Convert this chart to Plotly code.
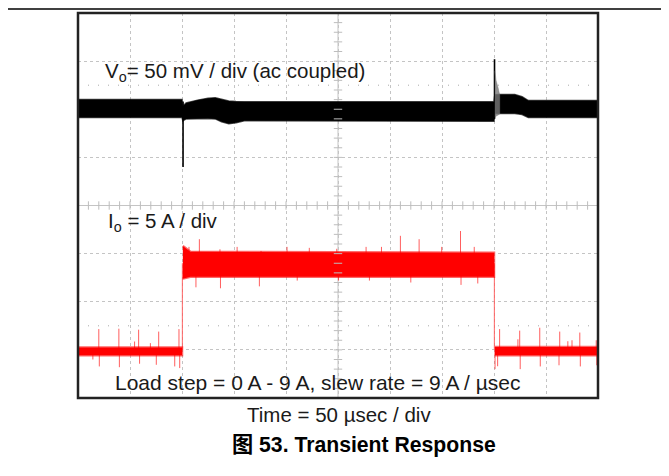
import plotly.graph_objects as go

# ---------------------------------------------------------------- Datos leídos del osciloscopio
# tiempo en µsec (50 µsec / div, 10 div)
# Vo en mV, ac coupled, 50 mV / div, referencia en +2 div
VO_REF, VO_SCALE = 2, 50
vo_t = [0, 100, 100.8, 104, 115, 125, 132, 138, 145, 152, 160, 400, 400.8, 405, 420, 427, 433, 500]
vo_hi = [10, 10, 3, 6.6, 9.5, 11.5, 12, 10.5, 8.5, 8, 7.7, 7.7, 15, 15.4, 15.4, 13, 9, 9]
vo_lo = [-8.5, -8.5, -12, -10, -9.5, -9.5, -10, -13, -15, -14, -12, -12.5, -4.5, -4.3, -4.3, -5.5, -8.5, -8.5]

# picos del transitorio de Vo
vo_spike_t = [101, 400.5]
vo_spike_top = [8, 52]
vo_spike_bot = [-60, -10]

# oscilación gris después del segundo escalón
ring_t = [400.8, 402, 404, 405.5]
ring_hi = [40, 30, 22, 15]
ring_lo = [-8, -7, -6, -5]

# Io en A, 5 A / div, referencia (0 A) en -3 div
IO_REF, IO_SCALE = -3, 5
io_t = [0, 100, None, 100.8, 108, 400, None, 400.8, 500]
io_hi = [0.25, 0.25, None, 10.8, 10.2, 10.1, None, 0.3, 0.3]
io_lo = [-0.55, -0.55, None, 7.4, 7.6, 7.6, None, -0.55, -0.55]

io_edge_t = [100.4, 400.4]
io_edge_from = [0, 9]
io_edge_to = [9, 0]

# picos de ruido de Io
io_spike_t = [20, 39.3, 58.3, 77.6, 97.1, 54.4, 69.6,
              14.3, 20.5, 39.8, 59.2, 75.3, 93, 97.8,
              106.7, 116.7, 136.5, 153, 176, 201, 222.4, 248.8, 277, 291.8, 310, 328, 349.7, 367.8, 381,
              113.4, 137, 174.4, 210.8, 250.5, 280.2, 320, 368.3, 384.4,
              405.4, 424.7, 444, 463.2, 482.5, 498.3, 423, 471, 475,
              401, 403.5, 425.2, 444.5, 462.5, 483, 498.8]
io_spike_peak = [2.16, 2.2, 2.1, 1.9, 2.16, 0.87, 0.7,
                 -1.0, -1.72, -1.8, -1.44, -1.55, -1.72, -1.89,
                 10.7, 11.5, 10.45, 10.7, 10.28, 10.7, 10.6, 10.5, 10.7, 10.7, 11.85, 11.5, 10.7, 12.35, 10.7,
                 6.5, 6.4, 6.6, 7.2, 7.2, 7.2, 7.0, 6.75, 6.9,
                 2.16, 2.0, 2.3, 1.9, 1.8, 1.0, 1.1, 0.9, 1.0,
                 -2.0, -1.7, -2.0, -1.72, -1.6, -1.72, -1.6]

FONT = "Liberation Sans, Arial, Noto Sans CJK SC"


def band(t, hi, lo):
    # arma polígonos cerrados (uno por segmento separado con None)
    xs, ys = [], []
    seg = []
    for a, b, c in list(zip(t, hi, lo)) + [(None, None, None)]:
        if a is None:
            if seg:
                xs += [s[0] for s in seg] + [s[0] for s in seg[::-1]] + [None]
                ys += [s[1] for s in seg] + [s[2] for s in seg[::-1]] + [None]
            seg = []
        else:
            seg.append((a, b, c))
    return xs, ys


def vo_div(v):
    return None if v is None else VO_REF + v / VO_SCALE


def io_div(i):
    return None if i is None else IO_REF + i / IO_SCALE


fig = go.Figure()

# ---------------------------------------------------------------- Traza Vo (negra)
bx, by = band(vo_t, vo_hi, vo_lo)
fig.add_trace(go.Scatter(x=bx, y=[vo_div(v) for v in by], fill="toself", mode="lines",
                         fillcolor="black", line=dict(color="rgba(0,0,0,0.7)", width=1.5)))

sx, sy = [], []
for t, a, b in zip(vo_spike_t, vo_spike_top, vo_spike_bot):
    sx += [t, t, None]
    sy += [vo_div(a), vo_div(b), None]
fig.add_trace(go.Scatter(x=sx, y=sy, mode="lines", line=dict(color="black", width=1.6)))

rx, ry = band(ring_t, ring_hi, ring_lo)
fig.add_trace(go.Scatter(x=rx, y=[vo_div(v) for v in ry], fill="toself", mode="lines",
                         fillcolor="rgba(120,120,120,0.8)", line=dict(color="rgba(120,120,120,0.8)", width=0.5)))

# ---------------------------------------------------------------- Traza Io (roja)
ex, ey = [], []
for t, a, b in zip(io_edge_t, io_edge_from, io_edge_to):
    ex += [t, t, None]
    ey += [io_div(a), io_div(b), None]
fig.add_trace(go.Scatter(x=ex, y=ey, mode="lines", line=dict(color="rgba(255,90,90,0.8)", width=1.2)))

px_, py_ = [], []
for t, p in zip(io_spike_t, io_spike_peak):
    base = 9 if 100 < t < 400 else 0
    px_ += [t, t, None]
    py_ += [io_div(base), io_div(p), None]
fig.add_trace(go.Scatter(x=px_, y=py_, mode="lines", line=dict(color="rgba(255,40,40,0.75)", width=1)))

ix, iy = band(io_t, io_hi, io_lo)
fig.add_trace(go.Scatter(x=ix, y=[io_div(v) for v in iy], fill="toself", mode="lines",
                         fillcolor="#ff0000", line=dict(color="rgba(255,0,0,0.6)", width=2.5)))

# ---------------------------------------------------------------- Retícula central con marcas
mk_t = [k * 10 for k in range(51)]
mk_v = [k * 0.2 - 4 for k in range(41)]
fig.add_trace(go.Scatter(x=mk_t, y=[0] * len(mk_t), mode="markers",
                         marker=dict(symbol="line-ns", size=6, line=dict(color="#bdbdbd", width=1))))
fig.add_trace(go.Scatter(x=[250] * len(mk_v), y=mk_v, mode="markers",
                         marker=dict(symbol="line-ew", size=6, line=dict(color="#bdbdbd", width=1))))

# marcadores de referencia de canal (izquierda)
fig.add_trace(go.Scatter(x=[-5.5, -5.5], y=[VO_REF, IO_REF], mode="markers", cliponaxis=False,
                         marker=dict(symbol="triangle-right", size=7, color="#222")))

shapes = [
    dict(type="line", xref="x", yref="y", x0=250, x1=250, y0=-4, y1=4,
         line=dict(color="#c4c4c4", width=1), layer="below"),
    dict(type="line", xref="x", yref="y", x0=0, x1=500, y0=0, y1=0,
         line=dict(color="#c4c4c4", width=1), layer="below"),
    dict(type="line", xref="x", yref="y", x0=0, x1=500, y0=2.5, y1=2.5,
         line=dict(color="#aaaaaa", width=1, dash="1px,9px"), layer="below"),
    dict(type="line", xref="x", yref="y", x0=0, x1=500, y0=-2.5, y1=-2.5,
         line=dict(color="#aaaaaa", width=1, dash="1px,9px"), layer="below"),
    dict(type="rect", xref="paper", yref="paper", x0=0, x1=1, y0=0, y1=1,
         line=dict(color="#222", width=2.5), layer="above"),
    # línea superior de la página
    dict(type="line", xref="paper", yref="paper", x0=-0.14, x1=1.14, y0=1.0105, y1=1.0105,
         line=dict(color="black", width=1.5)),
]

txt = dict(family=FONT, size=20.5, color="#1a1a1a")
annotations = [
    dict(x=24, y=2.78, xref="x", yref="y", text="V<sub>o</sub>= 50 mV / div (ac coupled)",
         xanchor="left", yanchor="middle", showarrow=False, font=txt),
    dict(x=26.5, y=-0.35, xref="x", yref="y", text="I<sub>o</sub> = 5 A / div",
         xanchor="left", yanchor="middle", showarrow=False, font=txt),
    dict(x=34, y=-3.68, xref="x", yref="y", text="Load step = 0 A - 9 A, slew rate = 9 A / µsec",
         xanchor="left", yanchor="middle", showarrow=False, font=dict(family=FONT, size=21, color="#1a1a1a")),
    dict(x=0.502, y=-0.043, xref="paper", yref="paper", text="Time = 50 µsec / div",
         xanchor="center", yanchor="middle", showarrow=False, font=txt),
    dict(x=0.55, y=-0.122, xref="paper", yref="paper", text="<b>图 53. Transient Response</b>",
         xanchor="center", yanchor="middle", showarrow=False,
         font=dict(family=FONT, size=21.2, color="black")),
]

# la página agrega 8 px de margen, la figura se reduce para compensar
fig.update_layout(
    width=661, height=468, autosize=False,
    margin=dict(l=70, r=71, t=5, b=78, pad=0),
    paper_bgcolor="white", plot_bgcolor="white",
    showlegend=False, hovermode=False,
    shapes=shapes, annotations=annotations,
)
fig.update_xaxes(range=[0, 500], dtick=50, tick0=0, showticklabels=False, ticks="",
                 showgrid=True, gridcolor="#c4c4c4", griddash="dot", gridwidth=1, zeroline=False)
fig.update_yaxes(range=[-4, 4], dtick=1, tick0=0, showticklabels=False, ticks="",
                 showgrid=True, gridcolor="#c4c4c4", griddash="dot", gridwidth=1, zeroline=False)

fig.write_html("out.html")
